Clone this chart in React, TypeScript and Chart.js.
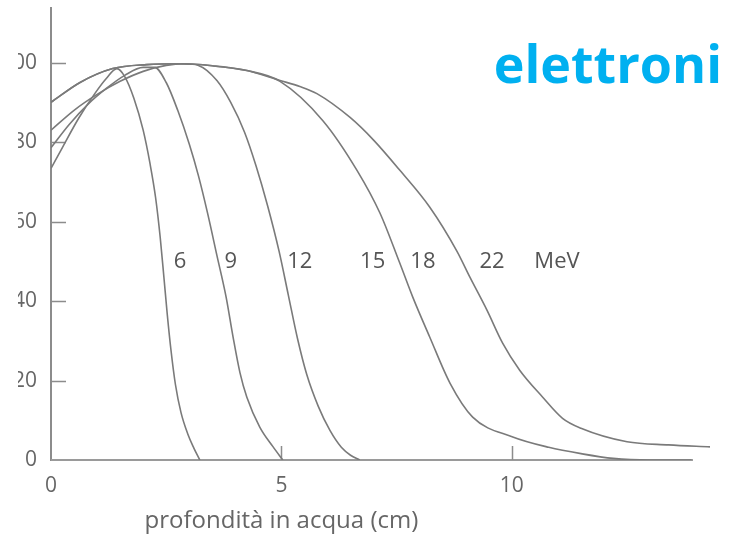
import React, { useEffect, useRef } from 'react';
import { Chart, registerables } from 'chart.js';

Chart.register(...registerables);

// ---- data (depth in cm, dose in %) ----
const seriesNames = ['6 MeV', '9 MeV', '12 MeV', '18 MeV', '22 MeV'];

const depth6 = [0, 0.25, 0.6, 0.95, 1.2, 1.43, 1.6, 1.8, 2.0, 2.15, 2.27, 2.37, 2.45, 2.52, 2.6, 2.7, 2.82, 2.97, 3.1, 3.23];
const dose6 = [73.4, 78.7, 86, 92.2, 96, 98.5, 96.5, 91, 83, 74.5, 66, 56, 46, 37, 28, 19, 12, 6.5, 3, 0];

const depth9 = [0, 0.4, 0.8, 1.2, 1.6, 2.0, 2.25, 2.5, 2.75, 3.0, 3.2, 3.4, 3.6, 3.8, 3.95, 4.1, 4.25, 4.53, 4.82, 5.03];
const dose9 = [78.6, 84.5, 89.5, 93.5, 96.8, 98.8, 98.8, 95, 88, 79.5, 71.5, 62, 51.5, 41, 31, 22, 15.8, 8.3, 3.3, 0];

const depth12 = [0, 0.5, 1.0, 1.5, 2.0, 2.5, 2.9, 3.2, 3.6, 3.9, 4.2, 4.45, 4.7, 4.95, 5.15, 5.35, 5.55, 5.8, 6.05, 6.3, 6.5, 6.7];
const dose12 = [83, 88, 92, 95.3, 97.8, 99.3, 99.7, 99.3, 95.5, 90, 82.5, 74, 64, 52.5, 41.5, 30.5, 21.5, 13.5, 7.5, 3.2, 1.2, 0];

const depth18 = [0, 0.63, 1.34, 2.08, 2.8, 3.5, 4.25, 4.97, 5.9, 6.64, 7.14, 7.57, 7.85, 8.22, 8.66, 9.15, 10.02, 10.8, 11.5, 12.2, 13.0, 13.9];
const dose18 = [90, 95, 98.5, 99.5, 99.7, 99.2, 98, 95.3, 85.4, 72.9, 62.1, 49.5, 41, 30.9, 19.3, 10.8, 5.8, 3.2, 1.6, 0.4, 0, 0];

const depth22 = [0, 0.63, 1.34, 2.08, 2.8, 3.5, 4.25, 4.97, 5.4, 5.77, 6.49, 7.0, 7.57, 8.22, 8.81, 9.09, 9.46, 9.8, 10.17, 10.67, 11.1, 11.5, 12.5, 13.4, 14.3];
const dose22 = [90, 95, 98.5, 99.5, 99.7, 99.2, 98, 95.5, 94, 92.2, 86.2, 80.5, 72.9, 63.6, 52.5, 46, 37.7, 29.4, 22.6, 15.8, 10.5, 8, 4.6, 3.8, 3.3];

const curveLabels = ['6', '9', '12', '15', '18', '22', 'MeV'];
const curveLabelDepth = [2.8, 3.9, 5.4, 6.98, 8.07, 9.57, 10.98];
const curveLabelDose = 50;

const xAxisTitle = 'profondità in acqua (cm)';
const chartTitle = 'elettroni';

const xMin = 0;
const xMax = 14.3;
const xAxisEnd = 13.93;
const yMin = 0;
const yMax = 114;

const depths = [depth6, depth9, depth12, depth18, depth22];
const doses = [dose6, dose9, dose12, dose18, dose22];

const FONT = '"Open Sans", "DejaVu Sans", sans-serif';

const decorPlugin = {
  id: 'decor',
  beforeDatasetsDraw(chart: any) {
    const { ctx, scales } = chart;
    const x = scales.x;
    const y = scales.y;
    const x0 = x.getPixelForValue(0);
    const y0 = y.getPixelForValue(0);
    ctx.save();
    ctx.lineCap = 'butt';
    // y axis
    ctx.strokeStyle = '#8c8c8c';
    ctx.lineWidth = 2;
    ctx.beginPath();
    ctx.moveTo(x0, y.getPixelForValue(yMax));
    ctx.lineTo(x0, y0 + 1);
    ctx.stroke();
    // x axis
    ctx.strokeStyle = '#9a9a9a';
    ctx.beginPath();
    ctx.moveTo(x0, y0);
    ctx.lineTo(x.getPixelForValue(xAxisEnd), y0);
    ctx.stroke();
    // tick marks (inward)
    ctx.strokeStyle = '#8c8c8c';
    ctx.lineWidth = 1.5;
    ctx.beginPath();
    y.ticks.forEach((t: any) => {
      if (t.value === 0) return;
      const py = Math.round(y.getPixelForValue(t.value)) + 0.5;
      ctx.moveTo(x0, py);
      ctx.lineTo(x0 + 15, py);
    });
    x.ticks.forEach((t: any) => {
      if (t.value === 0) return;
      const px = Math.round(x.getPixelForValue(t.value)) + 0.5;
      ctx.moveTo(px, y0);
      ctx.lineTo(px, y0 - 14);
    });
    ctx.stroke();
    ctx.restore();
  },
  afterDraw(chart: any) {
    const { ctx, scales } = chart;
    const x = scales.x;
    const y = scales.y;
    ctx.save();
    // curve labels
    ctx.fillStyle = '#555555';
    ctx.font = `22px ${FONT}`;
    ctx.textAlign = 'center';
    ctx.textBaseline = 'middle';
    curveLabels.forEach((lab, i) => {
      ctx.fillText(lab, x.getPixelForValue(curveLabelDepth[i]), y.getPixelForValue(curveLabelDose));
    });
    // x axis title
    ctx.fillStyle = '#666666';
    ctx.font = `24px ${FONT}`;
    ctx.textAlign = 'center';
    ctx.textBaseline = 'alphabetic';
    ctx.fillText(xAxisTitle, x.getPixelForValue(5.0), 528);
    // title
    ctx.fillStyle = '#00B0F0';
    ctx.font = `bold 52px ${FONT}`;
    ctx.textAlign = 'right';
    ctx.fillText(chartTitle, 722, 83);
    ctx.restore();
  },
};

export default function App() {
  const canvasRef = useRef<HTMLCanvasElement | null>(null);

  useEffect(() => {
    const canvas = canvasRef.current;
    if (!canvas) return;
    const chart = new Chart(canvas, {
      type: 'line',
      data: {
        datasets: seriesNames.map((name, i) => ({
          label: name,
          data: depths[i].map((d, j) => ({ x: d, y: doses[i][j] })),
          borderColor: '#7a7a7a',
          borderWidth: 1.6,
          pointRadius: 0,
          fill: false,
          tension: 0.4,
          cubicInterpolationMode: 'monotone' as const,
        })),
      },
      options: {
        responsive: false,
        animation: false,
        devicePixelRatio: 1,
        layout: { padding: { top: 7, right: 739 - 710, bottom: 0, left: 0 } },
        plugins: {
          legend: { display: false },
          tooltip: { enabled: false },
          title: { display: false },
        },
        scales: {
          x: {
            type: 'linear',
            min: xMin,
            max: xMax,
            grid: { display: false, drawTicks: false },
            border: { display: false },
            ticks: {
              stepSize: 5,
              includeBounds: false,
              padding: 13,
              color: '#666666',
              font: { family: FONT, size: 21 },
              maxRotation: 0,
            },
            afterFit: (s: any) => {
              s.height = 79;
              s.paddingLeft = 0;
              s.paddingRight = 0;
            },
          },
          y: {
            type: 'linear',
            min: yMin,
            max: yMax,
            grid: { display: false, drawTicks: false },
            border: { display: false },
            ticks: {
              stepSize: 20,
              includeBounds: false,
              padding: 14,
              color: '#666666',
              font: { family: FONT, size: 21 },
            },
            afterFit: (s: any) => {
              s.width = 51;
              s.paddingTop = 0;
              s.paddingBottom = 0;
            },
          },
        },
      },
      plugins: [decorPlugin],
    });
    return () => chart.destroy();
  }, []);

  return (
    <div style={{ position: 'fixed', left: 0, top: 0, width: 739, height: 539, background: '#ffffff', overflow: 'hidden' }}>
      <div style={{ position: 'absolute', left: 18, top: 0, width: 721, height: 539, overflow: 'hidden' }}>
        <div style={{ position: 'absolute', left: -18, top: 0, width: 739, height: 539 }}>
          <canvas ref={canvasRef} width={739} height={539} style={{ width: 739, height: 539, display: 'block' }} />
        </div>
      </div>
    </div>
  );
}
